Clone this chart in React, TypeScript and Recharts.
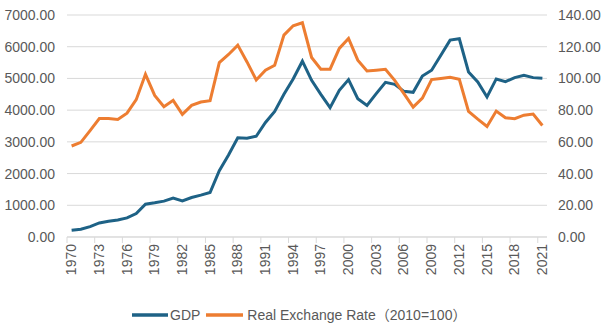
import React from "react";
import {
  LineChart,
  Line,
  XAxis,
  YAxis,
  CartesianGrid,
  Legend,
} from "recharts";

const years = [
  "1970", "1971", "1972", "1973", "1974", "1975", "1976", "1977", "1978", "1979",
  "1980", "1981", "1982", "1983", "1984", "1985", "1986", "1987", "1988", "1989",
  "1990", "1991", "1992", "1993", "1994", "1995", "1996", "1997", "1998", "1999",
  "2000", "2001", "2002", "2003", "2004", "2005", "2006", "2007", "2008", "2009",
  "2010", "2011", "2012", "2013", "2014", "2015", "2016", "2017", "2018", "2019",
  "2020", "2021",
];

const gdp = [
  212, 243, 327, 443, 496, 538, 602, 739, 1035, 1077,
  1130, 1225, 1140, 1246, 1320, 1404, 2090, 2587, 3126, 3115,
  3178, 3611, 3960, 4498, 4984, 5543, 4941, 4498, 4077, 4625,
  4963, 4361, 4150, 4520, 4878, 4815, 4593, 4561, 5078, 5258,
  5733, 6208, 6250, 5205, 4888, 4413, 4984, 4899, 5025, 5100,
  5025, 5005,
];

const rer = [
  57.4, 59.7, 67.1, 74.7, 74.7, 74.1, 78.1, 86.6, 102.6, 89.3,
  82.2, 86.2, 77.3, 83.0, 85.1, 86.0, 110.0, 115.1, 121.0, 110.4,
  99.0, 105.2, 108.3, 127.3, 133.2, 135.1, 113.2, 105.8, 105.8, 118.9,
  125.2, 111.5, 104.7, 105.2, 105.8, 98.8, 90.4, 81.9, 87.6, 99.3,
  100.0, 100.7, 99.5, 79.2, 74.3, 69.7, 79.4, 75.2, 74.6, 76.8,
  77.5, 70.3,
];

const leftTicks = [0, 1000, 2000, 3000, 4000, 5000, 6000, 7000];
const rightTicks = [0, 20, 40, 60, 80, 100, 120, 140];

const data = years.map((year, i) => ({ year, gdp: gdp[i], rer: rer[i] }));

const BLUE = "#1E6286";
const ORANGE = "#ED7D31";
const GRID = "#d9d9d9";
const TEXT = "#595959";
const FONT = '"Liberation Sans", Arial, "Noto Sans CJK SC", sans-serif';

// plot spans x 67..547, 52 categories
const BAND = 480 / years.length;

const YearTick = (props: any) => {
  const { x, y, payload } = props;
  const edge = x - BAND / 2;
  return (
    <g>
      <line x1={edge} x2={edge} y1={y} y2={y + 6} stroke={GRID} />
      <text
        transform={`translate(${x + 4.5},${y + 7}) rotate(-90)`}
        textAnchor="end"
        fill={TEXT}
        fontSize={14}
        fontFamily={FONT}
      >
        {payload.value}
      </text>
    </g>
  );
};

const LegendContent = () => (
  <div
    style={{
      height: 40,
      boxSizing: "border-box",
      paddingTop: 15,
      paddingLeft: 132,
      display: "flex",
      alignItems: "center",
      fontFamily: FONT,
      fontSize: 14,
      color: TEXT,
      lineHeight: "20px",
      whiteSpace: "nowrap",
    }}
  >
    <svg width={36} height={6} style={{ marginRight: 2 }}>
      <line x1={0} x2={36} y1={3} y2={3} stroke={BLUE} strokeWidth={3.5} />
    </svg>
    <span style={{ marginRight: 6 }}>GDP</span>
    <svg width={37} height={6} style={{ marginRight: 4 }}>
      <line x1={0} x2={37} y1={3} y2={3} stroke={ORANGE} strokeWidth={3.5} />
    </svg>
    <span>Real Exchange Rate（2010=100）</span>
  </div>
);

export default function App() {
  return (
    <div style={{ width: 608, height: 327 }}>
      <style>{`body{margin:0}`}</style>
      <LineChart
        width={608}
        height={327}
        data={data}
        margin={{ top: 15, right: 0, bottom: 0, left: 0 }}
      >
        <CartesianGrid
          yAxisId="left"
          vertical={false}
          stroke={GRID}
          strokeWidth={1}
        />
        <XAxis
          dataKey="year"
          scale="band"
          interval={2}
          height={50}
          tickSize={0}
          tickMargin={0}
          tickLine={false}
          axisLine={{ stroke: GRID }}
          tick={<YearTick />}
        />
        <YAxis
          yAxisId="left"
          width={67}
          domain={[0, 7000]}
          ticks={leftTicks}
          tickFormatter={(v: number) => v.toFixed(2)}
          axisLine={false}
          tickLine={false}
          tickMargin={6}
          tick={{ fill: TEXT, fontSize: 14, fontFamily: FONT }}
        />
        <YAxis
          yAxisId="right"
          orientation="right"
          width={61}
          domain={[0, 140]}
          ticks={rightTicks}
          tickFormatter={(v: number) => v.toFixed(2)}
          axisLine={false}
          tickLine={false}
          tickMargin={5}
          tick={{ fill: TEXT, fontSize: 14, fontFamily: FONT, textAnchor: "start" }}
        />
        <Legend verticalAlign="bottom" content={<LegendContent />} />
        <Line
          yAxisId="left"
          type="linear"
          dataKey="gdp"
          name="GDP"
          stroke={BLUE}
          strokeWidth={3}
          dot={false}
          isAnimationActive={false}
        />
        <Line
          yAxisId="right"
          type="linear"
          dataKey="rer"
          name="Real Exchange Rate（2010=100）"
          stroke={ORANGE}
          strokeWidth={3}
          dot={false}
          isAnimationActive={false}
        />
      </LineChart>
    </div>
  );
}
